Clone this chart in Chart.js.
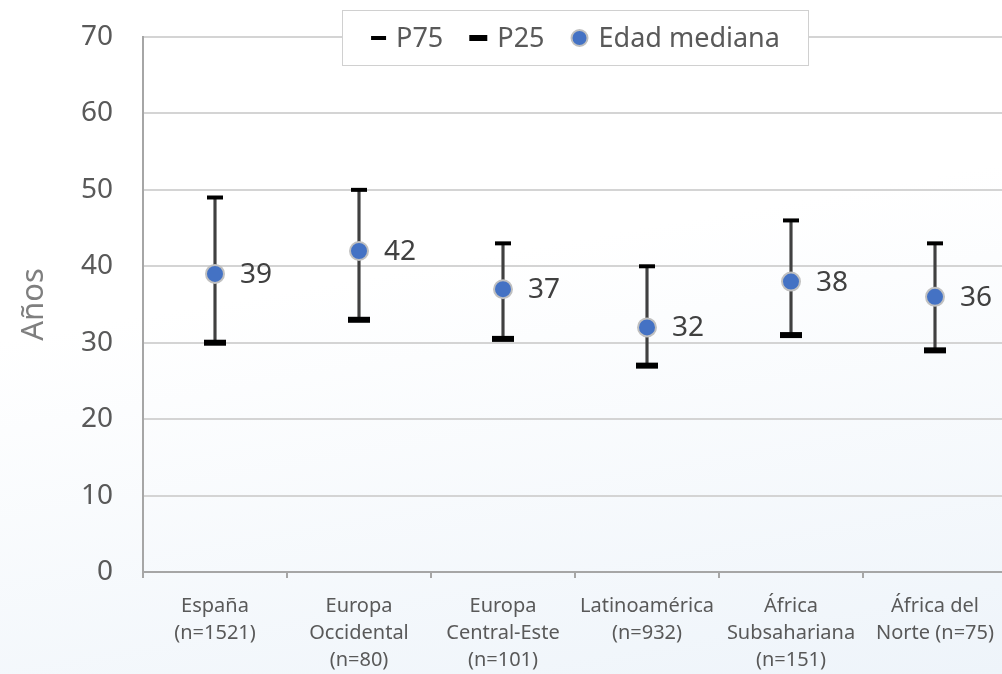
<!DOCTYPE html>
<html>
<head>
<meta charset="utf-8">
<script src="https://cdn.jsdelivr.net/npm/chart.js@4/dist/chart.umd.min.js"></script>
<style>
  html, body { margin: 0; padding: 0; overflow: hidden; }
  body {
    width: 1002px; height: 674px;
    background: linear-gradient(170deg, #ffffff 40%, #eef4fa 100%);
  }
  #wrap { width: 1008px; height: 674px; }
</style>
</head>
<body>
<div id="wrap"><canvas id="edades" width="1008" height="674"></canvas></div>
<script>
'use strict'

// Datos
const regiones = [
  ['España', '(n=1521)'],
  ['Europa', 'Occidental', '(n=80)'],
  ['Europa', 'Central-Este', '(n=101)'],
  ['Latinoamérica', '(n=932)'],
  ['África', 'Subsahariana', '(n=151)'],
  ['África del', 'Norte (n=75)']
]
const p75 = [49, 50, 43, 40, 46, 43]
const p25 = [30, 33, 30.5, 27, 31, 29]
const mediana = [39, 42, 37, 32, 38, 36]
const yTicks = [0, 10, 20, 30, 40, 50, 60, 70]

const fuente = '"Noto Sans", "Open Sans", sans-serif'
const gris = '#595959'

// Etiquetas de la mediana a la derecha del punto
const etiquetas = {
  id: 'etiquetas',
  afterDatasetsDraw(chart) {
    const ctx = chart.ctx
    const meta = chart.getDatasetMeta(3)
    ctx.save()
    ctx.font = '28px ' + fuente
    ctx.fillStyle = '#404040'
    ctx.textAlign = 'left'
    ctx.textBaseline = 'middle'
    meta.data.forEach((pt, i) => {
      ctx.fillText(String(mediana[i]), pt.x + 25, pt.y + 1)
    })
    ctx.restore()
  }
}

// Leyenda con recuadro encima de la linea de 70
const leyenda = {
  id: 'leyenda',
  afterDraw(chart) {
    const ctx = chart.ctx
    const box = {x: 342.5, y: 10.5, w: 466, h: 55}
    const cy = box.y + box.h / 2
    ctx.save()
    ctx.fillStyle = '#ffffff'
    ctx.fillRect(box.x, box.y, box.w, box.h)
    ctx.strokeStyle = '#d0d0d0'
    ctx.lineWidth = 1
    ctx.strokeRect(box.x, box.y, box.w, box.h)
    ctx.font = '27px ' + fuente
    ctx.textBaseline = 'middle'
    ctx.fillStyle = gris
    const items = [
      {text: 'P75', kind: 'p75', mw: 15},
      {text: 'P25', kind: 'p25', mw: 18},
      {text: 'Edad mediana', kind: 'med', mw: 18}
    ]
    const gap = 10, sep = 26
    let total = 0
    items.forEach((it, i) => {
      it.tw = ctx.measureText(it.text).width
      total += it.mw + gap + it.tw + (i ? sep : 0)
    })
    let x = box.x + (box.w - total) / 2
    items.forEach((it) => {
      if (it.kind === 'med') {
        ctx.beginPath()
        ctx.arc(x + 9, cy, 8, 0, Math.PI * 2)
        ctx.fillStyle = '#4472c4'
        ctx.fill()
        ctx.strokeStyle = '#bfbfbf'
        ctx.lineWidth = 2
        ctx.stroke()
      } else {
        ctx.fillStyle = '#000000'
        const th = it.kind === 'p75' ? 4 : 6
        ctx.fillRect(x, cy - th / 2, it.mw, th)
      }
      ctx.fillStyle = gris
      ctx.fillText(it.text, x + it.mw + gap, cy + 1)
      x += it.mw + gap + it.tw + sep
    })
    ctx.restore()
  }
}

const chart = new Chart(document.getElementById('edades'), {
  type: 'bar',
  data: {
    labels: regiones,
    datasets: [
      {
        label: 'rango',
        data: p25.map((v, i) => [v, p75[i]]),
        backgroundColor: '#404040',
        barThickness: 2.5,
        order: 3
      },
      {
        type: 'line',
        label: 'P75',
        data: p75,
        showLine: false,
        pointStyle: 'line',
        pointRadius: 8,
        pointBorderWidth: 4,
        pointBorderColor: '#000000',
        order: 2
      },
      {
        type: 'line',
        label: 'P25',
        data: p25,
        showLine: false,
        pointStyle: 'line',
        pointRadius: 11,
        pointBorderWidth: 6,
        pointBorderColor: '#000000',
        order: 1
      },
      {
        type: 'line',
        label: 'Edad mediana',
        data: mediana,
        showLine: false,
        pointStyle: 'circle',
        pointRadius: 9,
        pointBackgroundColor: '#4472c4',
        pointBorderColor: '#c0c0c0',
        pointBorderWidth: 2,
        order: 0
      }
    ]
  },
  options: {
    responsive: false,
    animation: false,
    // sin autoPadding: los puntos de linea no deben estrechar el area
    layout: {autoPadding: false, padding: {top: 37, right: 1, left: 0, bottom: 0}},
    plugins: {
      legend: {display: false},
      tooltip: {enabled: false}
    },
    scales: {
      x: {
        offset: true,
        afterFit: (s) => {
          s.height = 102
          s.paddingLeft = 0
          s.paddingRight = 0
        },
        grid: {
          offset: true,
          drawOnChartArea: false,
          tickLength: 6,
          color: '#a6a6a6',
          lineWidth: 2
        },
        border: {color: '#a6a6a6', width: 2},
        ticks: {
          color: gris,
          padding: 15,
          maxRotation: 0,
          autoSkip: false,
          font: {family: fuente, size: 20, lineHeight: 1.35}
        }
      },
      y: {
        min: 0,
        max: 70,
        afterFit: (s) => {
          s.width = 143
          s.paddingTop = 0
          s.paddingBottom = 0
        },
        afterBuildTicks: (s) => { s.ticks = yTicks.map(v => ({value: v})) },
        grid: {
          color: '#d4d4d4',
          lineWidth: 2,
          drawTicks: false
        },
        border: {color: '#a6a6a6', width: 2},
        ticks: {
          color: gris,
          padding: 30,
          font: {family: fuente, size: 28}
        },
        title: {
          display: true,
          text: 'Años',
          color: '#7f7f7f',
          padding: {top: 16, bottom: 0},
          font: {family: fuente, size: 31}
        }
      }
    }
  },
  plugins: [etiquetas, leyenda]
})
</script>
</body>
</html>
